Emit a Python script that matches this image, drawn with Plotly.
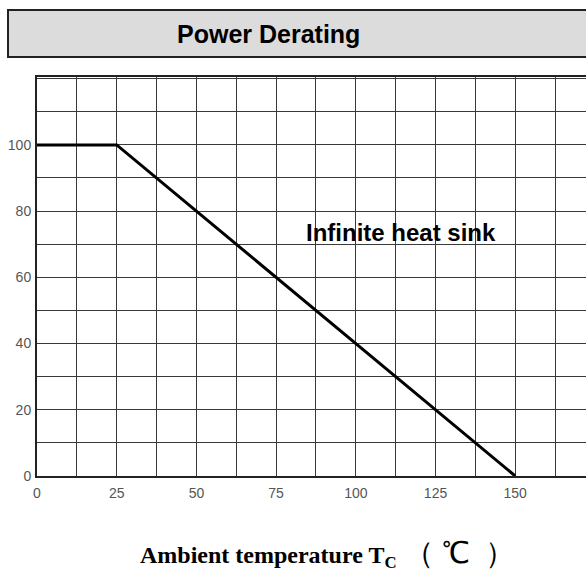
import plotly.graph_objects as go

temp_c = [0, 25, 150]
power_pct = [100, 100, 0]

x_grid = [0, 12.5, 25, 37.5, 50, 62.5, 75, 87.5, 100, 112.5, 125, 137.5, 150, 162.5]
x_labels = ["0", " ", "25", " ", "50", " ", "75", " ", "100", " ", "125", " ", "150", " "]
y_grid = [0, 10, 20, 30, 40, 50, 60, 70, 80, 90, 100, 110, 120]
y_labels = ["0", " ", "20", " ", "40", " ", "60", " ", "80", " ", "100", " ", " "]

W, H = 586, 571
L, R, T, B = 37, 0, 77, 571 - 476
pw, ph = W - L - R, H - T - B

def px(xp):
    return (xp - L) / pw

def py(yp):
    return (H - B - yp) / ph

fig = go.Figure()
fig.add_trace(go.Scatter(x=temp_c, y=power_pct, mode="lines",
                         line=dict(color="black", width=3), showlegend=False,
                         hoverinfo="skip"))

grid_col = "#3a3a3a"
tick_font = dict(family="Liberation Sans, Arial", size=14, color="#555")
fig.update_xaxes(range=[0, 172.2], tickvals=x_grid, ticktext=x_labels,
                 showgrid=True, gridcolor=grid_col, gridwidth=1.3,
                 showline=True, linecolor="#222", linewidth=2, mirror=True,
                 zeroline=False, ticks="", ticklabelstandoff=3, automargin=False,
                 tickfont=tick_font)
fig.update_yaxes(range=[0, 120.5], tickvals=y_grid, ticktext=y_labels,
                 showgrid=True, gridcolor=grid_col, gridwidth=1.3,
                 showline=True, linecolor="#222", linewidth=2,
                 zeroline=False, ticks="", ticklabelstandoff=1, automargin=False,
                 tickfont=tick_font)

fig.add_shape(type="rect", xref="paper", yref="paper",
              x0=px(8), x1=px(600), y0=py(57), y1=py(10),
              fillcolor="#dcdcdc", line=dict(color="#222", width=2), layer="above")

fig.add_annotation(text="<b>Power Derating</b>", xref="paper", yref="paper",
                   x=px(268), y=py(34), xanchor="center", yanchor="middle", showarrow=False,
                   font=dict(family="Liberation Sans, Arial", size=25, color="black"))

fig.add_annotation(text="<b>Infinite heat sink</b>", x=114.1, y=73.6,
                   xanchor="center", yanchor="middle", showarrow=False,
                   font=dict(family="Liberation Sans, Arial", size=24, color="black"))

fig.add_annotation(text="<b>Ambient temperature T<sub>C</sub></b>"
                        "<span style='font-size:30px'>\u00a0（\u00a0℃\u00a0\u00a0）</span>",
                   xref="paper", yref="paper",
                   x=px(327), y=py(554), xanchor="center", yanchor="middle", showarrow=False,
                   font=dict(family="Liberation Serif, Times New Roman", size=24, color="black"))

fig.update_layout(width=W, height=H, margin=dict(l=L, r=R, t=T, b=B),
                  plot_bgcolor="white", paper_bgcolor="white")

fig.write_html("out.html", config={"displayModeBar": False},
               post_script="document.body.style.margin='0px';")
